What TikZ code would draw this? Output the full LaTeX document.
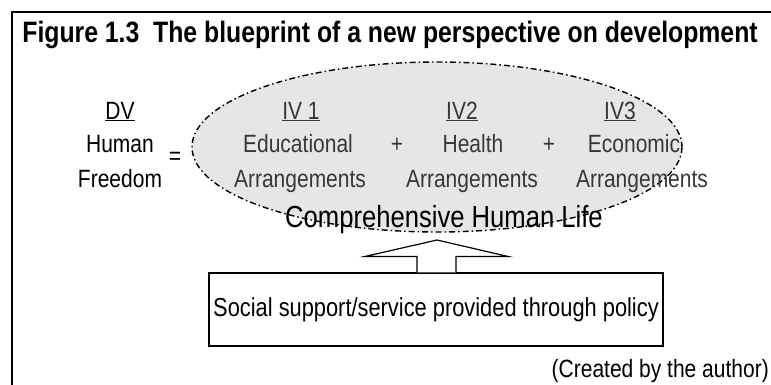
\documentclass[tikz,border=0pt]{standalone}
\usepackage{fontspec}
\setmainfont[FakeStretch=0.84]{Liberation Sans}
\usetikzlibrary{calc}

\begin{document}
\begin{tikzpicture}[x=1pt, y=-1pt,
    txt/.style={font=\fontsize{25}{28}\selectfont, inner sep=0pt, anchor=base},
    ivtxt/.style={txt, text=black!78}]
  \useasboundingbox (0, 0) rectangle (771, 384);

  % cadre
  \draw[line width=1.8pt] (12, 400) -- (12, 12) -- (790, 12);

  % titre
  \node[txt, font=\bfseries\fontsize{29.5}{33}\selectfont] (titre) at (390, 42)
    {Figure 1.3\ \ The blueprint of a new perspective on development};

  % ellipse vie humaine
  \draw[line width=1.4pt, fill={rgb,255:red,230;green,230;blue,230},
        dash pattern=on 6pt off 3pt on 1.5pt off 3pt]
    (437, 147) ellipse [x radius=245, y radius=85];

  % variable dependante
  \node[txt] (dv) at (120, 119) {\underline{DV}};
  \node[txt] (human) at (120, 152) {Human};
  \node[txt] (freedom) at (120, 187) {Freedom};
  \node[txt, anchor=center] (egal) at (175, 158) {=};

  % variables independantes
  \node[ivtxt] (iv1) at (301, 119) {\underline{IV 1}};
  \node[ivtxt] (iv2) at (462, 119) {\underline{IV2}};
  \node[ivtxt] (iv3) at (620, 119) {\underline{IV3}};
  \node[ivtxt] (educ) at (298, 152) {Educational};
  \node[ivtxt] (plus1) at (397, 152) {+};
  \node[ivtxt] (health) at (473, 152) {Health};
  \node[ivtxt] (plus2) at (549, 152) {+};
  \node[ivtxt] (econ) at (634, 152) {Economic};
  \node[ivtxt] (arr1) at (300, 187) {Arrangements};
  \node[ivtxt] (arr2) at (472, 187) {Arrangements};
  \node[ivtxt] (arr3) at (642, 187) {Arrangements};

  % vie humaine complete
  \node[txt, font=\fontsize{30.5}{34}\selectfont] (comp) at (444, 227) {Comprehensive Human Life};

  % boite politique
  \node[txt, anchor=center, font=\fontsize{26}{29}\selectfont, draw, line width=1.1pt,
        minimum width=454, minimum height=73] (politique) at (436, 309.5)
    {Social support/service provided through policy};

  % fleche bloc politique -> vie
  \coordinate (pointe) at (437, 240);
  \draw[line width=1.2pt, fill=white]
    ($(politique.north)+(-19, 0)$) -- ++(0, -16) -- ++(-52, 0) -- (pointe)
    -- ($(politique.north)+(72, -16)$) -- ++(-52, 0) -- ($(politique.north)+(20, 0)$);

  % source
  \node[txt, anchor=base east] (source) at (769, 377) {(Created by the author)};
\end{tikzpicture}
\end{document}
